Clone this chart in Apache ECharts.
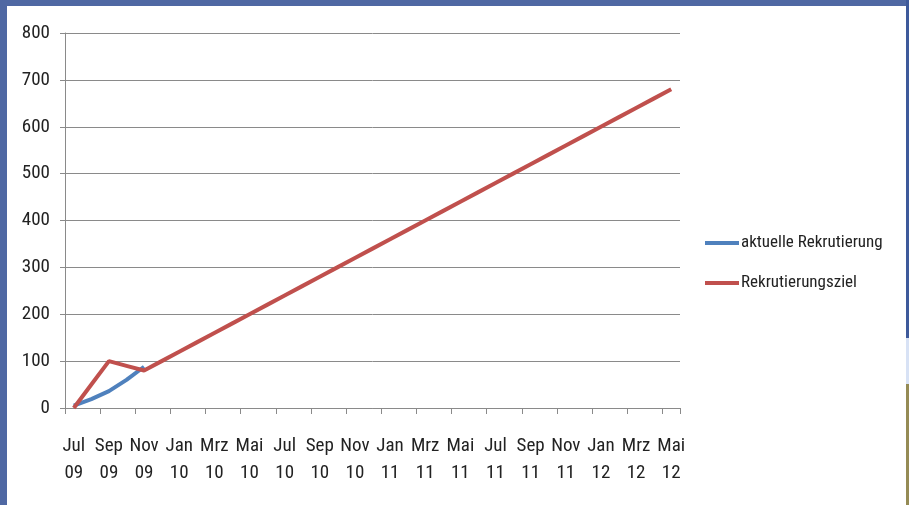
<!DOCTYPE html>
<html>
<head>
<meta charset="utf-8">
<script src="https://cdn.jsdelivr.net/npm/echarts@6/dist/echarts.min.js"></script>
<style>
html,body{margin:0;padding:0;background:#4F68A3;}
#c{width:909px;height:505px;}
</style>
</head>
<body>
<div id="c"></div>
<script>
var categories = ['Jul 09','Aug 09','Sep 09','Okt 09','Nov 09','Dez 09',
  'Jan 10','Feb 10','Mrz 10','Apr 10','Mai 10','Jun 10','Jul 10','Aug 10','Sep 10','Okt 10','Nov 10','Dez 10',
  'Jan 11','Feb 11','Mrz 11','Apr 11','Mai 11','Jun 11','Jul 11','Aug 11','Sep 11','Okt 11','Nov 11','Dez 11',
  'Jan 12','Feb 12','Mrz 12','Apr 12','Mai 12'];
var aktuelleRekrutierung = [5, 19, 36, 60, 88];
var rekrutierungsziel = [0, 50, 100, 90, 80, 100,
  120, 140, 160, 180, 200, 220, 240, 260, 280, 300, 320, 340,
  360, 380, 400, 420, 440, 460, 480, 500, 520, 540, 560, 580,
  600, 620, 640, 660, 680];
var yTicks = {min: 0, max: 800, interval: 100};
var seriesNames = ['aktuelle Rekrutierung', 'Rekrutierungsziel'];

var font = '"Roboto Condensed", "Liberation Sans", Arial, sans-serif';
var chart = echarts.init(document.getElementById('c'), null, {renderer: 'canvas'});
chart.setOption({
  backgroundColor: '#4F68A3',
  animation: false,
  graphic: [
    {type: 'rect', z: -10, silent: true, shape: {x: 7, y: 6, width: 899, height: 499}, style: {fill: '#ffffff'}},
    {type: 'rect', z: -10, silent: true, shape: {x: 906, y: 0, width: 3, height: 338}, style: {fill: '#3E5A9B'}},
    {type: 'rect', z: -10, silent: true, shape: {x: 906, y: 338, width: 3, height: 46}, style: {fill: '#D8E2F5'}},
    {type: 'rect', z: -10, silent: true, shape: {x: 906, y: 384, width: 3, height: 121}, style: {fill: '#958B55'}}
  ],
  grid: {left: 65, right: 229, top: 33, bottom: 97, containLabel: false},
  legend: {
    orient: 'vertical',
    left: 705,
    top: 233,
    padding: 0,
    itemWidth: 34,
    itemHeight: 4,
    itemGap: 20,
    icon: 'rect',
    textStyle: {fontFamily: font, fontSize: 17, color: '#222', padding: [0, 0, 0, -3], lineHeight: 20},
    data: seriesNames
  },
  xAxis: {
    type: 'category',
    data: categories,
    boundaryGap: true,
    axisLine: {lineStyle: {color: '#8a8a8a', width: 1}},
    axisTick: {show: true, interval: 1, length: 6, lineStyle: {color: '#8a8a8a'}},
    axisLabel: {
      interval: 1,
      margin: 25,
      fontFamily: font,
      fontSize: 19,
      lineHeight: 27,
      color: '#222',
      formatter: function (v) { return v.replace(' ', '\n'); }
    },
    splitLine: {show: false}
  },
  yAxis: {
    type: 'value',
    min: yTicks.min,
    max: yTicks.max,
    interval: yTicks.interval,
    axisLine: {show: true, lineStyle: {color: '#8a8a8a', width: 1}},
    axisTick: {show: true, length: 5, lineStyle: {color: '#8a8a8a'}},
    axisLabel: {margin: 15, fontFamily: font, fontSize: 19, color: '#222'},
    splitLine: {show: true, lineStyle: {color: '#8a8a8a', width: 1}}
  },
  series: [
    {
      name: seriesNames[0],
      type: 'line',
      data: aktuelleRekrutierung,
      symbol: 'none',
      color: '#4F81BD',
      lineStyle: {width: 4, color: '#4F81BD'},
      z: 2
    },
    {
      name: seriesNames[1],
      type: 'line',
      data: rekrutierungsziel,
      symbol: 'none',
      color: '#C0504D',
      lineStyle: {width: 4, color: '#C0504D'},
      z: 3
    }
  ]
});
</script>
</body>
</html>
